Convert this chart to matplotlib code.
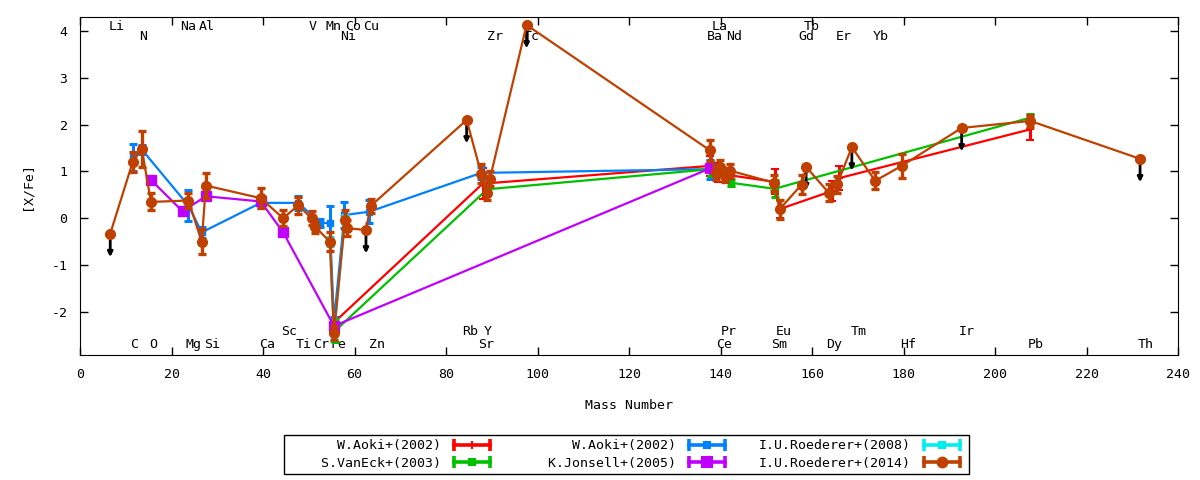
import matplotlib.pyplot as plt
from matplotlib.lines import Line2D
from matplotlib.legend_handler import HandlerLine2D, HandlerTuple

plt.rcParams['font.family'] = 'DejaVu Sans Mono'
plt.rcParams['font.size'] = 9.5
plt.rcParams['axes.unicode_minus'] = False

# W.Aoki+(2002) (red)
aoki_r_a = [55.8, 88.0, 137.8, 139.5, 142.0, 151.8, 153.0, 164.3, 166.0, 207.7]
aoki_r_y = [-2.2, 0.74, 1.12, 0.98, 0.92, 0.78, 0.2, 0.58, 0.86, 1.9]
aoki_r_e = [0.1, 0.33, 0.22, 0.2, 0.15, 0.27, 0.2, 0.22, 0.25, 0.22]

# W.Aoki+(2002) (blue)
aoki_b_a = [11.5, 13.5, 23.7, 26.6, 39.5, 47.7, 52.5, 54.6, 55.5, 57.8, 63.2, 87.7, 137.8]
aoki_b_y = [1.3, 1.47, 0.27, -0.3, 0.33, 0.33, -0.1, -0.1, -2.2, 0.07, 0.14, 0.97, 1.05]
aoki_b_e = [0.28, 0.1, 0.33, 0.12, 0.1, 0.15, 0.08, 0.37, 0.1, 0.27, 0.25, 0.13, 0.2]

# I.U.Roederer+(2008)
roed08_a = [54.6, 55.5, 57.9]
roed08_y = [-0.5, -2.52, -0.03]
roed08_e = [0.1, 0.1, 0.1]

# S.VanEck+(2003)
vaneck_a = [55.8, 89.0, 138.0, 142.2, 151.8, 207.7]
vaneck_y = [-2.4, 0.62, 1.05, 0.76, 0.63, 2.15]
vaneck_e = [0.25, 0.08, 0.15, 0.08, 0.18, 0.07]

# K.Jonsell+(2005)
jonsell_a = [15.5, 22.4, 27.5, 39.5, 44.4, 55.5, 137.8]
jonsell_y = [0.82, 0.15, 0.47, 0.36, -0.3, -2.3, 1.07]

# I.U.Roederer+(2014), lim = upper limit
roed14_a = [6.6, 11.5, 13.5, 15.5, 23.7, 26.6, 27.5, 39.5, 44.4, 47.7, 50.6, 51.4,
            54.6, 55.5, 57.9, 58.3, 62.5, 63.5, 84.5, 87.7, 88.9, 89.6, 97.6,
            137.7, 138.9, 139.9, 140.9, 142.0, 151.7, 152.9, 157.7, 158.7, 163.6,
            165.5, 168.7, 173.8, 179.6, 192.7, 207.7, 231.7]
roed14_y = [-0.33, 1.2, 1.48, 0.35, 0.38, -0.5, 0.7, 0.43, 0.0, 0.28, 0.0, -0.18,
            -0.5, -2.45, -0.03, -0.21, -0.25, 0.26, 2.1, 0.95, 0.55, 0.85, 4.13,
            1.45, 0.97, 1.1, 0.9, 1.02, 0.76, 0.19, 0.72, 1.1, 0.55,
            0.73, 1.52, 0.8, 1.12, 1.93, 2.08, 1.27]
roed14_e = [0, 0.22, 0.38, 0.18, 0.15, 0.27, 0.27, 0.21, 0.17, 0.18, 0.15, 0.13,
            0.2, 0.15, 0.2, 0.17, 0, 0.15, 0, 0.2, 0.15, 0.15, 0,
            0.22, 0.15, 0.15, 0.12, 0.15, 0.17, 0.2, 0.2, 0, 0.18,
            0.18, 0, 0.18, 0.25, 0, 0.12, 0]
roed14_lim = [1, 0, 0, 0, 0, 0, 0, 0, 0, 0, 0, 0,
              0, 0, 0, 0, 1, 0, 1, 0, 0, 0, 1,
              0, 0, 0, 0, 0, 0, 0, 0, 1, 0,
              0, 1, 0, 0, 1, 0, 1]
lim_len = 0.5

# element labels: name, position
top1 = [('Li', 7.9), ('Na', 23.7), ('Al', 27.7), ('V', 50.9), ('Mn', 55.5),
        ('Co', 59.8), ('Cu', 63.6), ('La', 139.9), ('Tb', 159.9)]
top2 = [('N', 13.8), ('Ni', 58.7), ('Zr', 90.7), ('Tc', 98.8), ('Ba', 138.8),
        ('Nd', 143.0), ('Gd', 158.8), ('Er', 167.0), ('Yb', 174.9)]
bot1 = [('Sc', 45.8), ('Rb', 85.2), ('Y', 89.1), ('Pr', 141.7), ('Eu', 153.9),
        ('Tm', 170.3), ('Ir', 193.8)]
bot2 = [('C', 11.9), ('O', 15.9), ('Mg', 24.8), ('Si', 28.8), ('Ca', 40.8),
        ('Ti', 49.0), ('Cr', 52.6), ('Fe', 56.5), ('Zn', 64.8), ('Sr', 88.7),
        ('Ce', 140.8), ('Sm', 152.9), ('Dy', 164.9), ('Hf', 180.9), ('Pb', 208.9),
        ('Th', 233.0)]

RED = '#ff0000'
GREEN = '#00c000'
BLUE = '#0080ff'
PURPLE = '#c000ff'
CYAN = '#00eeee'
BROWN = '#c04000'

fig = plt.figure(figsize=(12, 4.8), dpi=100)
ax = fig.add_axes([0.0667, 0.2604, 0.9150, 0.7042])

eb = dict(elinewidth=2.2, capsize=3, capthick=2.2, lw=1.6)

ax.errorbar(aoki_r_a, aoki_r_y, yerr=aoki_r_e, color=RED, marker='+', ms=6, mew=1.5, zorder=2, **eb)
ax.errorbar(aoki_b_a, aoki_b_y, yerr=aoki_b_e, color=BLUE, marker='s', ms=5, zorder=2.1, **eb)
ax.errorbar(roed08_a, roed08_y, yerr=roed08_e, color=CYAN, marker='s', ms=5, zorder=2.2, **eb)
ax.errorbar(vaneck_a, vaneck_y, yerr=vaneck_e, color=GREEN, marker='s', ms=4, zorder=2.3, **eb)
ax.plot(jonsell_a, jonsell_y, color=PURPLE, marker='s', ms=7.5, lw=1.6, zorder=2.4)

ax.plot(roed14_a, roed14_y, color=BROWN, marker='o', ms=7, lw=1.6, zorder=2.6)
ea = [a for a, l in zip(roed14_a, roed14_lim) if not l]
ey = [y for y, l in zip(roed14_y, roed14_lim) if not l]
ee = [e for e, l in zip(roed14_e, roed14_lim) if not l]
ax.errorbar(ea, ey, yerr=ee, fmt='none', ecolor=BROWN, elinewidth=2.4, capsize=3.2, capthick=2.4, zorder=2.6)
for a, y, l in zip(roed14_a, roed14_y, roed14_lim):
    if l:
        ax.annotate('', xy=(a, y - lim_len), xytext=(a, y),
                    arrowprops=dict(arrowstyle='-|>', color='black', lw=2,
                                    mutation_scale=7, shrinkA=0, shrinkB=0),
                    zorder=2.5)

for row, yy in [(top1, 4.09), (top2, 3.88), (bot1, -2.41), (bot2, -2.69)]:
    for name, a in row:
        ax.text(a, yy, name, ha='center', va='center', zorder=1)

ax.set_xlim(0, 240)
ax.set_ylim(-2.92, 4.30)
ax.set_xticks(range(0, 241, 20))
ax.set_yticks(range(-2, 5))
ax.tick_params(direction='in', top=True, right=True, length=6, width=1, pad=9)
ax.set_xlabel('Mass Number', labelpad=13)
ax.set_ylabel('[X/Fe]', labelpad=13)

# legend samples like gnuplot errorbar keys
handles = []
hmap = {}
for c, m, ms in [(RED, '+', 6), (GREEN, 's', 4), (BLUE, 's', 5),
                 (PURPLE, 's', 7.5), (CYAN, 's', 5), (BROWN, 'o', 7)]:
    caps = Line2D([], [], color=c, lw=2.6, marker='|', ms=9, mew=2.6)
    mid = Line2D([], [], color=c, ls='none', marker=m, ms=ms, mew=1.5)
    hmap[caps] = HandlerLine2D(numpoints=2)
    hmap[mid] = HandlerLine2D(numpoints=1)
    handles.append((caps, mid))
hmap[tuple] = HandlerTuple(ndivide=1)
labels = ['W.Aoki+(2002)', 'S.VanEck+(2003)', 'W.Aoki+(2002)',
          'K.Jonsell+(2005)', 'I.U.Roederer+(2008)', 'I.U.Roederer+(2014)']
# gnuplot gives every key column the same width
width = max(len(s) for s in labels)
leg = fig.legend(handles, [s.rjust(width) for s in labels], handler_map=hmap,
                 ncol=3, markerfirst=False,
                 loc='center', bbox_to_anchor=(0.522, 0.053), fancybox=False,
                 edgecolor='black', framealpha=1, handlelength=3.3,
                 handletextpad=0.7, columnspacing=2.3, labelspacing=0.35,
                 borderpad=0.35)
leg.get_frame().set_linewidth(1)

fig.savefig('out.png', dpi=100)
